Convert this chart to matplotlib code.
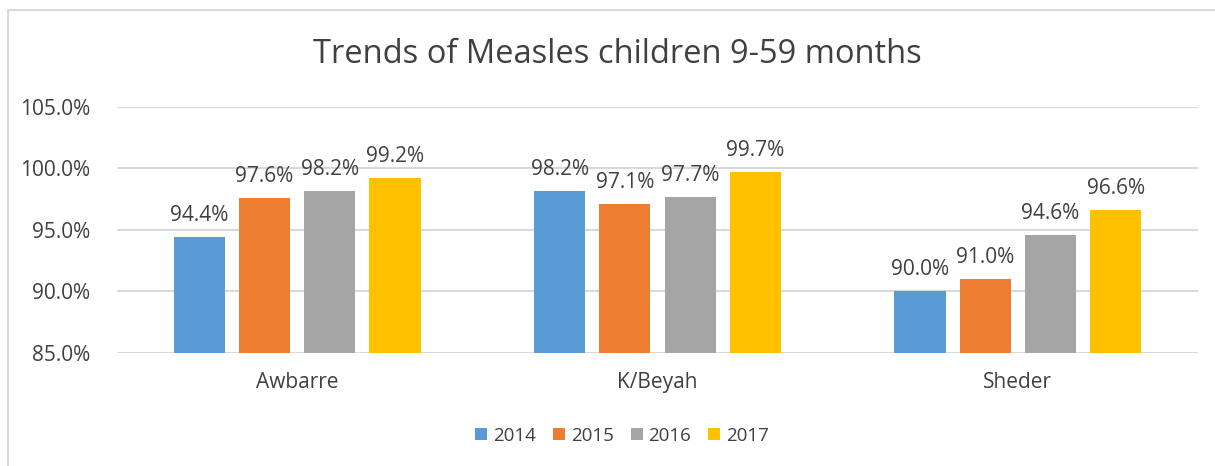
import numpy as np
import matplotlib.pyplot as plt
from matplotlib.patches import Rectangle

plt.rcParams['font.family'] = ['Open Sans', 'DejaVu Sans']

districts = ['Awbarre', 'K/Beyah', 'Sheder']
years = ['2014', '2015', '2016', '2017']
v2014 = [94.4, 98.2, 90.0]
v2015 = [97.6, 97.1, 91.0]
v2016 = [98.2, 97.7, 94.6]
v2017 = [99.2, 99.7, 96.6]
colors = ['#5B9BD5', '#ED7D31', '#A5A5A5', '#FFC000']
yticks = [85, 90, 95, 100, 105]

txt = '#404040'
fig = plt.figure(figsize=(12.15, 4.66), dpi=100)
ax = fig.add_axes([0.0963, 0.2425, 0.8897, 0.528])

# chart border (runs off the right/bottom edge in the original)
fig.patches.append(Rectangle((8 / 1215, -0.1), 1.2, 1 - 10 / 466 + 0.1,
                             transform=fig.transFigure, fill=False,
                             edgecolor='#D9D9D9', lw=1.5))

x = np.arange(len(districts))
w = 0.142
step = 0.181
for i, (vals, c) in enumerate(zip([v2014, v2015, v2016, v2017], colors)):
    pos = x + (i - 1.5) * step
    ax.bar(pos, np.array(vals) - 85, w, bottom=85, color=c, label=years[i], zorder=2)
    for p, v in zip(pos, vals):
        ax.text(p, v + 0.9, f'{v:.1f}%', ha='center', va='bottom', fontsize=15, color=txt)

ax.set_xlim(-0.5, 2.5)
ax.set_ylim(85, 105)
ax.set_yticks(yticks)
ax.set_yticklabels([f'{t:.1f}%' for t in yticks], fontsize=15, color=txt)
ax.set_xticks(x)
ax.set_xticklabels(districts, fontsize=15, color=txt)
ax.tick_params(length=0)
ax.tick_params(axis='y', pad=19)
ax.tick_params(axis='x', pad=14)
ax.grid(axis='y', color='#D9D9D9', lw=1.5, zorder=0)
for s in ax.spines.values():
    s.set_visible(False)

fig.text(0.508, 0.882, 'Trends of Measles children 9-59 months', ha='center', va='center',
         fontsize=23.5, color=txt)
fig.legend(loc='center', bbox_to_anchor=(0.512, 0.065), ncol=4, frameon=False,
           fontsize=13.5, handlelength=0.64, handleheight=0.64, handletextpad=0.32,
           columnspacing=0.9, labelcolor=txt)

fig.savefig('out.png')
